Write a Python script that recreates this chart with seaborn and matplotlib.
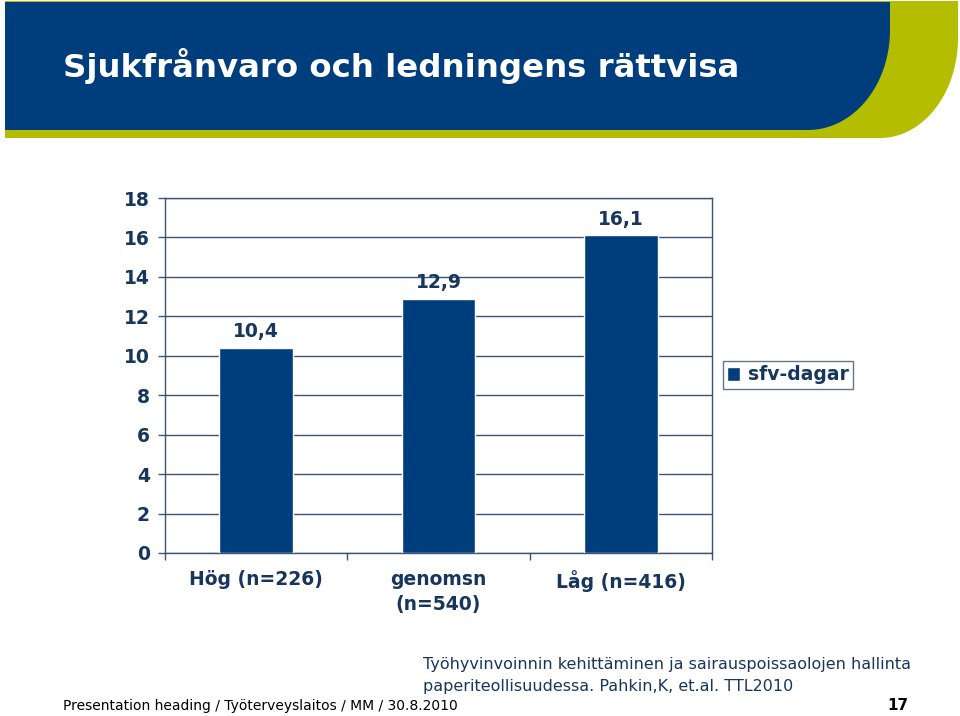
import numpy as np
import pandas as pd
import matplotlib
matplotlib.use("Agg")
import matplotlib.pyplot as plt
import seaborn as sns
from matplotlib.path import Path
from matplotlib.patches import PathPatch

categories = ["Hög (n=226)", "genomsn\n(n=540)", "Låg (n=416)"]
values = [10.4, 12.9, 16.1]
value_labels = ["10,4", "12,9", "16,1"]
series_name = "sfv-dagar"
yticks = [0, 2, 4, 6, 8, 10, 12, 14, 16, 18]

title = "Sjukfrånvaro och ledningens rättvisa"
source_lines = ["Työhyvinvoinnin kehittäminen ja sairauspoissaolojen hallinta",
                "paperiteollisuudessa. Pahkin,K, et.al. TTL2010"]
footer = "Presentation heading / Työterveyslaitos / MM / 30.8.2010"
page_no = "17"

BLUE = "#003d7c"
GREEN = "#b5bd00"
TXT = "#17365d"
GRID = "#3a5478"

sns.set_theme(style="white")
plt.rcParams['font.family'] = ['DejaVu Sans']

W, H = 960, 716
fig = plt.figure(figsize=(W / 100, H / 100), dpi=100)

# Background overlay for header shapes and texts (pixel coordinates)
bg = fig.add_axes([0, 0, 1, 1], zorder=0)
bg.set_xlim(0, W)
bg.set_ylim(H, 0)
bg.axis("off")

def corner_shape(x0, y0, x1, y1, rx, ry, n=60):
    t = np.linspace(0, np.pi / 2, n)
    cx, cy = x1 - rx, y1 - ry
    arc = np.column_stack([cx + rx * np.cos(t), cy + ry * np.sin(t)])
    pts = [(x0, y0), (x1, y0)] + [tuple(p) for p in arc] + [(x0, y1), (x0, y0)]
    return Path(pts, closed=True)

bg.add_patch(PathPatch(corner_shape(5, 1, 958, 138, 78, 100), fc=GREEN, ec="none"))
bg.add_patch(PathPatch(corner_shape(5, 2, 890, 130, 82, 100), fc=BLUE, ec="none"))

bg.text(63, 66, title, color="white", fontsize=23.3, fontweight="bold",
        va="center", ha="left")

bg.text(423, 665, source_lines[0], color=TXT, fontsize=11.5, va="center", ha="left")
bg.text(423, 686, source_lines[1], color=TXT, fontsize=11.5, va="center", ha="left")
bg.text(63, 706, footer, color="black", fontsize=10, va="center", ha="left")
bg.text(908, 706, page_no, color="black", fontsize=11, fontweight="bold",
        va="center", ha="right")

# Chart axes
ax = fig.add_axes([165 / W, 1 - 553 / H, 547 / W, 355 / H], zorder=2)
ax.patch.set_alpha(0)
df = pd.DataFrame({"cat": categories, "val": values, "serie": series_name})
sns.barplot(data=df, x="cat", y="val", hue="serie", palette=[BLUE],
            width=0.405, ax=ax, saturation=1, zorder=3)

ax.set_ylim(0, 18)
ax.set_xlim(-0.5, 2.5)
ax.set_yticks(yticks)
ax.set_yticklabels([str(v) for v in yticks])
ax.set_xlabel("")
ax.set_ylabel("")
ax.yaxis.grid(True, color=GRID, linewidth=1)
ax.set_axisbelow(True)
for s in ax.spines.values():
    s.set_visible(True)
    s.set_color(GRID)
    s.set_linewidth(1)

ax.tick_params(axis="y", which="major", left=True, length=5, width=1, color=GRID,
               pad=6, labelsize=13.5, labelcolor=TXT)
ax.tick_params(axis="x", which="major", bottom=False, length=0, pad=12,
               labelsize=13.5, labelcolor=TXT)
ax.set_xticks([-0.5, 0.5, 1.5, 2.5], minor=True)
ax.tick_params(axis="x", which="minor", bottom=True, length=5, width=1, color=GRID)
for lab in ax.get_yticklabels() + ax.get_xticklabels():
    lab.set_fontweight("bold")
for lab in ax.get_xticklabels():
    lab.set_linespacing(1.4)

for cont in ax.containers:
    ax.bar_label(cont, labels=value_labels, padding=5, color=TXT, fontsize=13.5,
                 fontweight="bold")

handles, labels = ax.get_legend_handles_labels()
if ax.get_legend() is not None:
    ax.get_legend().remove()
leg = fig.legend(handles, labels, loc="center", bbox_to_anchor=(788 / W, 1 - 375 / H),
                 frameon=True, fancybox=False, handlelength=0.7, handleheight=0.7,
                 handletextpad=0.4, borderpad=0.25, fontsize=13.5)
leg.get_frame().set_edgecolor(GRID)
leg.get_frame().set_linewidth(1)
for t in leg.get_texts():
    t.set_color(TXT)
    t.set_fontweight("bold")

fig.savefig("out.png", dpi=100)
